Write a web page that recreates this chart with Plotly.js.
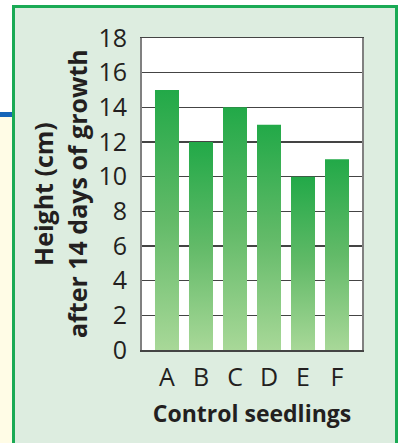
<!DOCTYPE html>
<html>
<head>
<meta charset="utf-8">
<script src="https://cdn.plot.ly/plotly-3.0.1.min.js"></script>
<style>
  html, body { margin: 0; padding: 0; background: #ffffff; }
  #wrap { position: relative; width: 400px; height: 443px; overflow: hidden; background: #ffffff; }
  #yellow { position: absolute; left: 0; top: 117px; width: 13px; height: 326px; background: #fffce6; }
  #blue { position: absolute; left: 0; top: 112px; width: 13px; height: 5px; background: #1565b8; }
  #panel { position: absolute; left: 12px; top: 5px; width: 380px; height: 460px; background: #ddede0; border: 3px solid #1aaa55; }
  #chart { position: absolute; left: 0; top: 0; width: 400px; height: 443px; }
</style>
</head>
<body>
<div id="wrap">
  <div id="yellow"></div>
  <div id="blue"></div>
  <div id="panel"></div>
  <div id="chart"></div>
</div>
<script>
const categories = ['A', 'B', 'C', 'D', 'E', 'F'];
const heights = [15, 12, 14, 13, 10, 11];
const yTicks = [0, 2, 4, 6, 8, 10, 12, 14, 16, 18];
const yTitleLine1 = 'Height (cm)';
const yTitleLine2 = 'after 14 days of growth';
const xTitle = 'Control seedlings';

const tickFont = { family: 'Liberation Sans Narrow, Open Sans, sans-serif', size: 25, color: '#231f20' };
const titleFont = { family: 'Open Sans, sans-serif', size: 23, color: '#231f20', weight: 700 };
const yTitleFont = { family: 'Open Sans, sans-serif', size: 25, color: '#231f20', weight: 700 };

const trace = {
  type: 'bar',
  x: categories,
  y: heights,
  marker: { color: '#5cb85f', line: { width: 0 } },
  hoverinfo: 'skip'
};

const layout = {
  width: 400,
  height: 443,
  margin: { l: 142, r: 38, t: 38, b: 93, pad: 0 },
  paper_bgcolor: 'rgba(0,0,0,0)',
  plot_bgcolor: '#ffffff',
  bargap: 0.294,
  showlegend: false,
  xaxis: {
    type: 'category',
    range: [-0.735, 5.735],
    showgrid: false,
    showline: true,
    linecolor: '#444444',
    linewidth: 1.5,
    mirror: true,
    ticks: '',
    tickfont: tickFont,
    ticklabelstandoff: 4,
    title: { text: xTitle, font: titleFont, standoff: 14 },
    fixedrange: true
  },
  yaxis: {
    range: [0, 18],
    tickvals: yTicks,
    ticktext: yTicks.map(String),
    showgrid: true,
    gridcolor: '#444444',
    gridwidth: 1.6,
    zeroline: false,
    showline: true,
    linecolor: '#808080',
    linewidth: 2,
    mirror: true,
    ticks: '',
    tickfont: tickFont,
    ticklabelstandoff: 8,
    fixedrange: true
  },
  annotations: [
    { text: yTitleLine1, xref: 'paper', yref: 'paper', x: 0, y: 0.5, xanchor: 'center', yanchor: 'middle',
      xshift: -99, textangle: -90, showarrow: false, font: yTitleFont },
    { text: yTitleLine2, xref: 'paper', yref: 'paper', x: 0, y: 0.5, xanchor: 'center', yanchor: 'middle',
      xshift: -65, textangle: -90, showarrow: false, font: yTitleFont }
  ]
};

function applyGradient(gd) {
  const svg = gd.querySelector('.main-svg');
  if (!svg) return;
  let defs = svg.querySelector('defs');
  if (!defs) { defs = document.createElementNS('http://www.w3.org/2000/svg', 'defs'); svg.insertBefore(defs, svg.firstChild); }
  if (!defs.querySelector('#barGrad')) {
    const ns = 'http://www.w3.org/2000/svg';
    const g = document.createElementNS(ns, 'linearGradient');
    g.setAttribute('id', 'barGrad');
    g.setAttribute('x1', '0'); g.setAttribute('y1', '0');
    g.setAttribute('x2', '0'); g.setAttribute('y2', '1');
    [['0', '#22a948'], ['0.5', '#62ba68'], ['1', '#a8d898']].forEach(([o, c]) => {
      const s = document.createElementNS(ns, 'stop');
      s.setAttribute('offset', o); s.setAttribute('stop-color', c);
      g.appendChild(s);
    });
    defs.appendChild(g);
  }
  gd.querySelectorAll('.barlayer .point path').forEach(p => { p.style.fill = 'url(#barGrad)'; });
}

const gd = document.getElementById('chart');
Plotly.newPlot(gd, [trace], layout, { displayModeBar: false, staticPlot: true }).then(() => {
  applyGradient(gd);
  gd.on && gd.on('plotly_afterplot', () => applyGradient(gd));
});
</script>
</body>
</html>
